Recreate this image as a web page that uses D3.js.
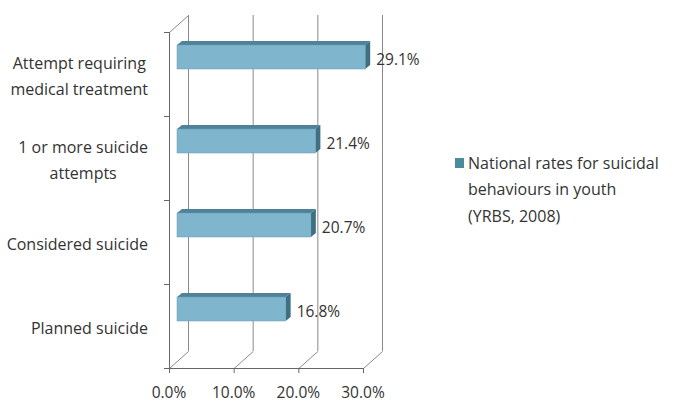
<!DOCTYPE html>
<html>
<head>
<meta charset="utf-8">
<script src="https://cdn.jsdelivr.net/npm/d3@7"></script>
<style>
  body { margin: 0; background: #fff; }
  text { font-family: "Open Sans", "Noto Sans", sans-serif; fill: #333; }
</style>
</head>
<body>
<div id="chart"></div>
<script>
// chart data
var categories = [["Attempt requiring", "medical treatment"], ["1 or more suicide", "attempts"], ["Considered suicide"], ["Planned suicide"]];
var values = [29.1, 21.4, 20.7, 16.8];
var xTicks = [0, 10, 20, 30];
var legendLines = ["National rates for suicidal", "behaviours in youth", "(YRBS, 2008)"];

// svg size
var width = 676, height = 407;

// 3d wall offset and bar depth
var dx = 19, dy = -17;
var bdx = 5, bdy = -4;

var svg = d3.select("#chart")
            .append("svg")
            .attr("width", width)
            .attr("height", height);

var x = d3.scaleLinear().domain([0, 30]).range([169, 363]);
var y = d3.scaleBand().domain(d3.range(categories.length)).range([32, 368]);

var grid = svg.append("g").attr("stroke", "#8a8a8a").attr("stroke-width", 1).attr("fill", "none");

// back wall gridlines
grid.selectAll("line.back")
    .data(xTicks)
    .enter()
        .append("line")
        .attr("x1", function(d){ return x(d) + dx + 0.5; })
        .attr("x2", function(d){ return x(d) + dx + 0.5; })
        .attr("y1", 32 + dy)
        .attr("y2", 368 + dy);

// floor diagonals
grid.selectAll("line.floor")
    .data(xTicks)
    .enter()
        .append("line")
        .attr("x1", function(d){ return x(d) + 0.5; })
        .attr("y1", 368.5)
        .attr("x2", function(d){ return x(d) + dx + 0.5; })
        .attr("y2", 368.5 + dy);

// top left diagonal
grid.append("line")
    .attr("x1", x(0) + 0.5).attr("y1", 32.5)
    .attr("x2", x(0) + dx + 0.5).attr("y2", 32.5 + dy);

// front axes
var axis = svg.append("g").attr("stroke", "#666").attr("stroke-width", 1);
axis.append("line")
    .attr("x1", x(0) + 0.5).attr("x2", x(0) + 0.5)
    .attr("y1", 32).attr("y2", 368.5);
axis.append("line")
    .attr("x1", x(0)).attr("x2", x(30) + 0.5)
    .attr("y1", 368.5).attr("y2", 368.5);

axis.selectAll("line.ytick")
    .data(d3.range(categories.length + 1))
    .enter()
        .append("line")
        .attr("x1", x(0) - 5).attr("x2", x(0))
        .attr("y1", function(d){ return 32 + d * y.bandwidth() + 0.5; })
        .attr("y2", function(d){ return 32 + d * y.bandwidth() + 0.5; });

axis.selectAll("line.xtick")
    .data(xTicks)
    .enter()
        .append("line")
        .attr("x1", function(d){ return x(d) + 0.5; })
        .attr("x2", function(d){ return x(d) + 0.5; })
        .attr("y1", 368).attr("y2", 373);

// bars
var barH = 24;
var bars = svg.append("g").selectAll("g.bar")
            .data(values)
            .enter()
                .append("g")
                .attr("class", "bar");

function barTop(i){ return y(i) + y.bandwidth() / 2 - 17 - barH / 2; }
var x0 = x(0) + 8;

// top face
bars.append("path")
    .attr("d", function(d, i){
        var t = barTop(i), r = x0 + (x(d) - x(0));
        return "M" + x0 + "," + t + "L" + (x0 + bdx) + "," + (t + bdy) +
               "L" + (r + bdx) + "," + (t + bdy) + "L" + r + "," + t + "Z";
    })
    .attr("fill", "#4f8198");

// side face
bars.append("path")
    .attr("d", function(d, i){
        var t = barTop(i), r = x0 + (x(d) - x(0));
        return "M" + r + "," + t + "L" + (r + bdx) + "," + (t + bdy) +
               "L" + (r + bdx) + "," + (t + bdy + barH) + "L" + r + "," + (t + barH) + "Z";
    })
    .attr("fill", "#3f6f82");

// front face
bars.append("rect")
    .attr("x", x0)
    .attr("y", function(d, i){ return barTop(i); })
    .attr("width", function(d){ return x(d) - x(0); })
    .attr("height", barH)
    .attr("fill", "#80b5ce")
    .attr("stroke", "#6a9fb8")
    .attr("stroke-width", 0.5);

// value labels
bars.append("text")
    .attr("x", function(d){ return x0 + (x(d) - x(0)) + bdx + 6; })
    .attr("y", function(d, i){ return barTop(i) + barH / 2 + 3; })
    .attr("dy", "0.35em")
    .style("font-size", "15.5px")
    .text(function(d){ return d.toFixed(1) + "%"; });

// category labels - lines centred in a block, block right aligned
var cats = svg.append("g").selectAll("text.cat")
            .data(categories)
            .enter()
                .append("text")
                .attr("class", "cat")
                .attr("text-anchor", "middle")
                .style("font-size", "16px")
                .attr("y", function(d, i){ return y(i) + y.bandwidth() / 2 + 2 - (d.length - 1) * 13; });

cats.selectAll("tspan")
    .data(function(d){ return d; })
    .enter()
        .append("tspan")
        .attr("dy", function(d, i){ return i == 0 ? "0.35em" : "26"; })
        .text(function(d){ return d; });

cats.each(function(){
    var spans = d3.select(this).selectAll("tspan");
    var w = d3.max(spans.nodes(), function(n){ return n.getComputedTextLength(); });
    spans.attr("x", 148 - w / 2);
});

// x tick labels
svg.append("g").selectAll("text.xlab")
    .data(xTicks)
    .enter()
        .append("text")
        .attr("text-anchor", "middle")
        .attr("x", function(d){ return x(d); })
        .attr("y", 393)
        .attr("dy", "0.35em")
        .style("font-size", "15.5px")
        .text(function(d){ return d.toFixed(1) + "%"; });

// legend
var legend = svg.append("g");
legend.append("rect")
    .attr("x", 455).attr("y", 158)
    .attr("width", 9).attr("height", 10)
    .attr("fill", "#4b8c9c");
legend.selectAll("text")
    .data(legendLines)
    .enter()
        .append("text")
        .attr("x", 468)
        .attr("y", function(d, i){ return 163 + i * 26.5; })
        .attr("dy", "0.35em")
        .style("font-size", "16px")
        .text(function(d){ return d; });
</script>
</body>
</html>
